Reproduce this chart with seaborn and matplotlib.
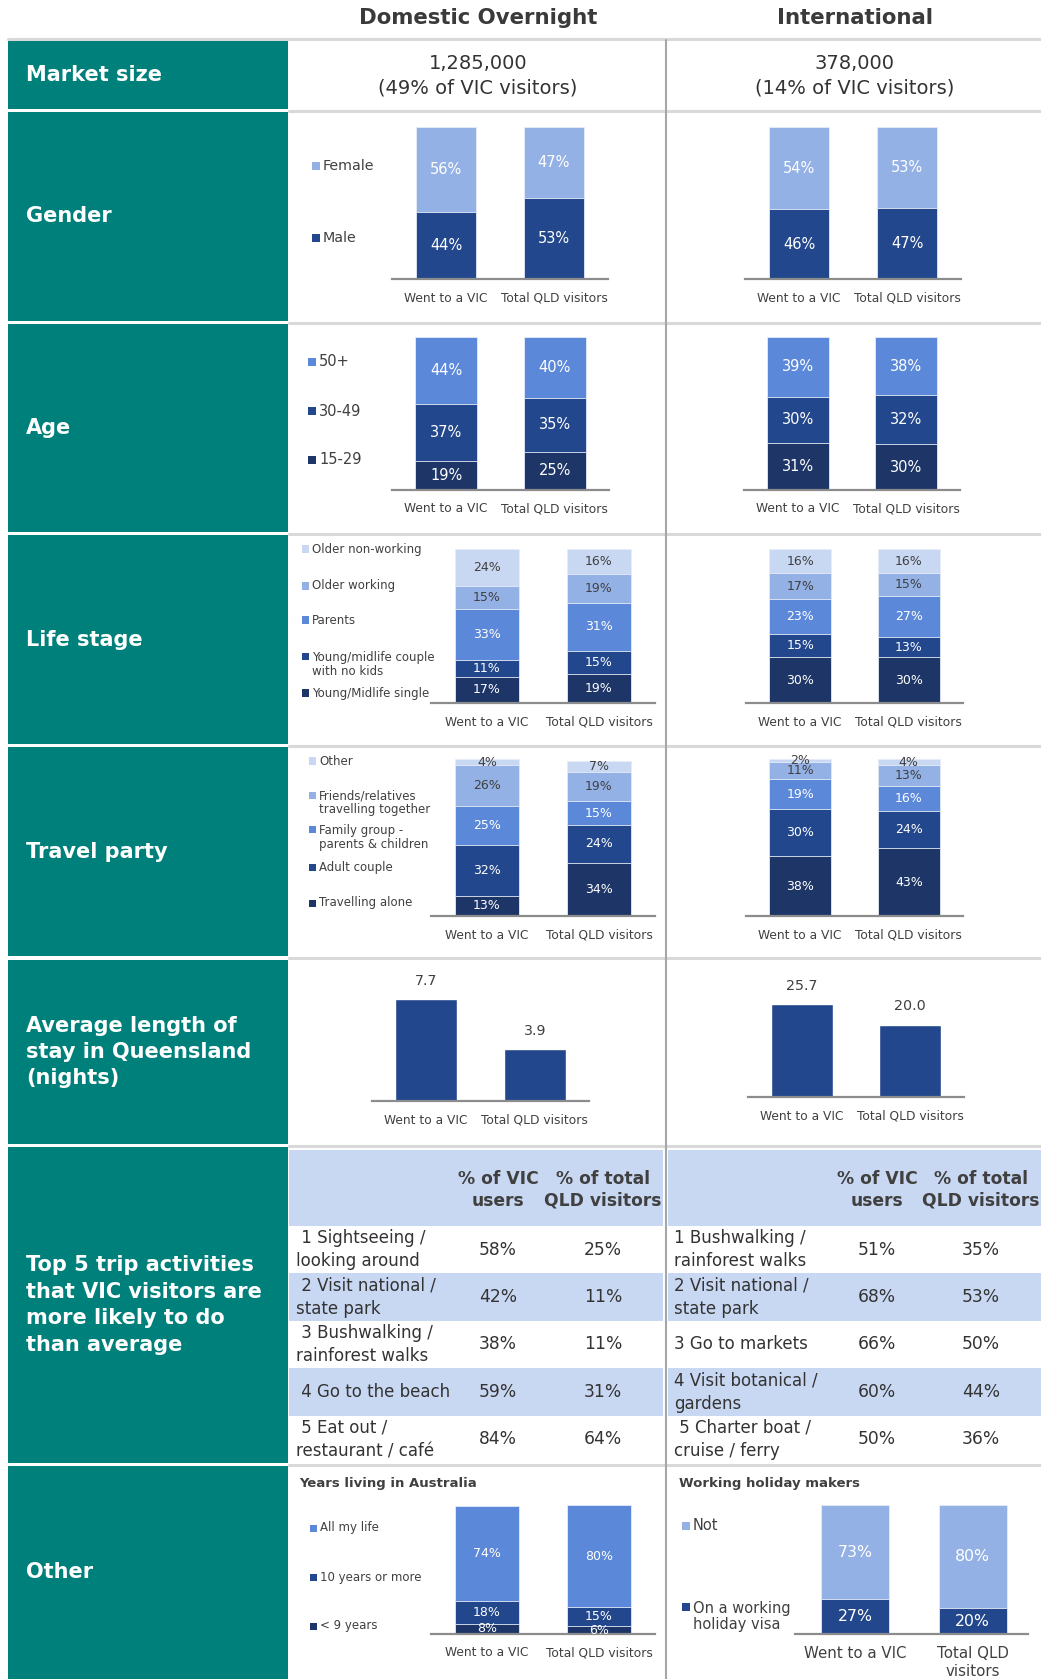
import numpy as np
import pandas as pd
import matplotlib
matplotlib.use("Agg")
import matplotlib.pyplot as plt
from matplotlib.patches import Rectangle
from matplotlib.lines import Line2D
import seaborn as sns

# ── Data ─────────────────────────────────────
cats = ["Went to a VIC", "Total QLD visitors"]

market_dom = 1285000
market_dom_share = 49
market_int = 378000
market_int_share = 14

# segments listed bottom -> top, each [VIC, QLD]
gender_labels = ["Male", "Female"]
gender_dom = [[44, 53], [56, 47]]
gender_int = [[46, 47], [54, 53]]

age_labels = ["15-29", "30-49", "50+"]
age_dom = [[19, 25], [37, 35], [44, 40]]
age_int = [[31, 30], [30, 32], [39, 38]]

life_labels = ["Young/Midlife single", "Young/midlife couple\nwith no kids",
               "Parents", "Older working", "Older non-working"]
life_dom = [[17, 19], [11, 15], [33, 31], [15, 19], [24, 16]]
life_int = [[30, 30], [15, 13], [23, 27], [17, 15], [16, 16]]

party_labels = ["Travelling alone", "Adult couple", "Family group -\nparents & children",
                "Friends/relatives\ntravelling together", "Other"]
party_dom = [[13, 34], [32, 24], [25, 15], [26, 19], [4, 7]]
party_int = [[38, 43], [30, 24], [19, 16], [11, 13], [2, 4]]

stay_dom = [7.7, 3.9]
stay_int = [25.7, 20.0]

act_dom = [" 1 Sightseeing /\nlooking around", " 2 Visit national /\nstate park",
           " 3 Bushwalking /\nrainforest walks", " 4 Go to the beach",
           " 5 Eat out /\nrestaurant / café"]
act_dom_vic = [58, 42, 38, 59, 84]
act_dom_qld = [25, 11, 11, 31, 64]
act_int = ["1 Bushwalking /\nrainforest walks", "2 Visit national /\nstate park",
           "3 Go to markets", "4 Visit botanical /\ngardens", " 5 Charter boat /\ncruise / ferry"]
act_int_vic = [51, 68, 66, 60, 50]
act_int_qld = [35, 53, 50, 44, 36]

years_labels = ["< 9 years", "10 years or more", "All my life"]
years_dom = [[8, 6], [18, 15], [74, 80]]

whm_cats = ["Went to a VIC", "Total QLD\nvisitors"]
whm_labels = ["On a working\nholiday visa", "Not"]
whm_int = [[27, 20], [73, 80]]

row_titles = ["Market size", "Gender", "Age", "Life stage", "Travel party",
              "Average length of\nstay in Queensland\n(nights)",
              "Top 5 trip activities\nthat VIC visitors are\nmore likely to do\nthan average",
              "Other"]

# ── Style ─────────────────────────────────────
TEAL = "#00807a"
NAVY_D = "#1d3567"
NAVY = "#22478c"
MID = "#5b88d9"
LIGHT = "#93b1e5"
PALE = "#c9d8f2"
DARK = "#404040"
GRID = "#d9d9d9"

sns.set_theme(style="white")
plt.rcParams["font.family"] = ["DejaVu Sans"]

W, H = 1041, 1679
fig = plt.figure(figsize=(W / 100, H / 100), dpi=100)
fig.patch.set_facecolor("white")


def fy(y):
    return 1 - y / H


def panel(x0, x1, ytop, ybot):
    return fig.add_axes([x0 / W, fy(ybot), (x1 - x0) / W, (ybot - ytop) / H])


def finish(ax, ymax, tick_fs=8.8, pad=9, xlim=(-0.5, 1.5)):
    ax.set_ylim(0, ymax)
    ax.set_xlim(*xlim)
    for s in ["top", "right", "left"]:
        ax.spines[s].set_visible(False)
    ax.spines["bottom"].set_color("#8c8c8c")
    ax.spines["bottom"].set_linewidth(1.6)
    ax.set_yticks([])
    ax.set_xlabel("")
    ax.set_ylabel("")
    ax.tick_params(axis="x", length=0, pad=pad, labelsize=tick_fs, labelcolor=DARK)
    ax.patch.set_alpha(0)


def stacked(x0, x1, ytop, ybot, segs, colors, tcolors, fs, names=cats,
            width=0.57, tick_fs=8.8, pad=9, xlim=(-0.5, 1.5)):
    ax = panel(x0, x1, ytop, ybot)
    df = pd.DataFrame(segs, columns=names)
    cum = df.cumsum()
    for i in reversed(range(len(df))):
        sns.barplot(x=names, y=cum.iloc[i].to_numpy(), color=colors[i], width=width,
                    saturation=1, edgecolor="#e6ecf7", linewidth=0.6, ax=ax)
    for i in range(len(df)):
        for j in range(len(names)):
            v = df.iloc[i, j]
            ax.text(j, cum.iloc[i, j] - v / 2, f"{v}%", ha="center", va="center",
                    color=tcolors[i], fontsize=fs)
    finish(ax, cum.iloc[-1].max(), tick_fs, pad, xlim)
    return ax


def legend(labels, colors, ys, xm, fs, size=7, gap=3):
    lh = fs * 100 / 72 * 1.17 * 1.1
    for lab, c, y in zip(labels, colors, ys):
        fig.add_artist(Rectangle((xm / W, fy(y + size / 2)), size / W, size / H,
                                 transform=fig.transFigure, facecolor=c, edgecolor="none"))
        n = lab.count("\n")
        fig.text((xm + size + gap) / W, fy(y + n * lh / 2), lab, ha="left", va="center",
                 fontsize=fs, color=DARK, linespacing=1.1)


def table(x0, x1, acts, vic, qld, tx, cv, cq):
    ax = panel(x0, x1, 1150, 1463)
    ax.set_xlim(x0, x1)
    ax.set_ylim(1463, 1150)
    ax.axis("off")
    ax.axhspan(1150, 1226, color=PALE, lw=0)
    ax.text(cv, 1190, "% of VIC\nusers", ha="center", va="center", fontsize=12.3,
            fontweight="bold", color=DARK, linespacing=1.25)
    ax.text(cq, 1190, "% of total\nQLD visitors", ha="center", va="center", fontsize=12.3,
            fontweight="bold", color=DARK, linespacing=1.25)
    rh = (1463 - 1226) / len(acts)
    for i, (a, v, q) in enumerate(zip(acts, vic, qld)):
        y0 = 1226 + i * rh
        if i % 2:
            ax.axhspan(y0, y0 + rh, color=PALE, lw=0)
        yc = y0 + rh / 2
        ax.text(tx, yc, a, ha="left", va="center", fontsize=12, color="#333333",
                linespacing=1.4)
        ax.text(cv, yc, f"{v}%", ha="center", va="center", fontsize=12.3, color="#333333")
        ax.text(cq, yc, f"{q}%", ha="center", va="center", fontsize=12.3, color="#333333")


# ── Frame: teal row headers and grid lines ────
cells = [(41, 109), (112, 321), (324, 532), (535, 744), (747, 956),
         (960, 1144), (1147, 1463), (1466, 1679)]
for (t, b), title in zip(cells, row_titles):
    fig.add_artist(Rectangle((8 / W, fy(b)), 280 / W, (b - t) / H,
                             transform=fig.transFigure, facecolor=TEAL, edgecolor="none"))
    fig.text(26 / W, fy((t + b) / 2), title, ha="left", va="center", color="white",
             fontsize=15, fontweight="bold", linespacing=1.4)

fig.add_artist(Line2D([8 / W, 1], [fy(39), fy(39)], transform=fig.transFigure,
                      color=GRID, lw=2.2))
for y in [110.5, 322.5, 533.5, 745.5, 958, 1145.5, 1464.5]:
    fig.add_artist(Line2D([289 / W, 1], [fy(y), fy(y)], transform=fig.transFigure,
                          color=GRID, lw=2.2))
fig.add_artist(Line2D([666 / W, 666 / W], [fy(40), 0], transform=fig.transFigure,
                      color="#a6a6a6", lw=1.5))

fig.text(478 / W, fy(18), "Domestic Overnight", ha="center", va="center",
         fontsize=15.3, fontweight="bold", color="#3a3a3a")
fig.text(855 / W, fy(18), "International", ha="center", va="center",
         fontsize=15.3, fontweight="bold", color="#3a3a3a")

fig.text(478 / W, fy(76), f"{market_dom:,}\n({market_dom_share}% of VIC visitors)",
         ha="center", va="center", fontsize=14, color="#333333", linespacing=1.4)
fig.text(855 / W, fy(76), f"{market_int:,}\n({market_int_share}% of VIC visitors)",
         ha="center", va="center", fontsize=14, color="#333333", linespacing=1.4)

# ── Gender ───────────────────────────────────
g_cols = [NAVY, LIGHT]
g_txt = ["white", "white"]
stacked(392, 608, 127, 279, gender_dom, g_cols, g_txt, 10.5, width=0.56)
stacked(745, 961, 127, 279, gender_int, g_cols, g_txt, 10.5, width=0.56)
legend(gender_labels, g_cols, [238, 166], 312, 10.3, size=8)

# ── Age ──────────────────────────────────────
a_cols = [NAVY_D, NAVY, MID]
a_txt = ["white", "white", "white"]
stacked(392, 609, 337, 490, age_dom, a_cols, a_txt, 10.5)
stacked(744, 960, 337, 490, age_int, a_cols, a_txt, 10.5)
legend(age_labels, a_cols, [460, 411, 362], 308, 10.5, size=8)

# ── Life stage ───────────────────────────────
l_cols = [NAVY_D, NAVY, MID, LIGHT, PALE]
l_txt = ["white", "white", "white", DARK, DARK]
stacked(431, 655, 549, 703, life_dom, l_cols, l_txt, 9)
stacked(746, 963, 549, 703, life_int, l_cols, l_txt, 9)
legend(life_labels, l_cols, [693, 657, 620, 586, 549], 302, 8.5, size=7)

# ── Travel party ─────────────────────────────
stacked(431, 655, 759, 916, party_dom, l_cols, l_txt, 9)
stacked(746, 963, 759, 916, party_int, l_cols, l_txt, 9)
legend(party_labels, l_cols, [903, 867, 830, 795, 761], 309, 8.5, size=7)

# ── Average length of stay ───────────────────
for x0, x1, base, vals, ymax, scale in [(372, 589, 1101, stay_dom, 8.5, 13.25),
                                         (748, 964, 1097, stay_int, 28, 3.62)]:
    ax = panel(x0, x1, base - ymax * scale, base)
    sns.barplot(x=cats, y=vals, color=NAVY, width=0.57, saturation=1, ax=ax)
    ax.bar_label(ax.containers[0], fmt="%.1f", padding=8, fontsize=10.3, color=DARK)
    finish(ax, ymax)

# ── Top 5 activities ─────────────────────────
table(289, 663, act_dom, act_dom_vic, act_dom_qld, 296, 498, 603)
table(668, 1041, act_int, act_int_vic, act_int_qld, 674, 877, 981)

# ── Other ────────────────────────────────────
fig.text(299 / W, fy(1484), "Years living in Australia", ha="left", va="center",
         fontsize=9.5, fontweight="bold", color=DARK)
fig.text(679 / W, fy(1484), "Working holiday makers", ha="left", va="center",
         fontsize=9.5, fontweight="bold", color=DARK)

y_cols = [NAVY_D, NAVY, MID]
stacked(431, 655, 1505, 1634, years_dom, y_cols, ["white"] * 3, 9)
legend(years_labels, y_cols, [1626, 1577, 1528], 310, 8.5, size=7)

w_cols = [NAVY, LIGHT]
stacked(795, 1028, 1505, 1634, whm_int, w_cols, ["white", "white"], 11.3, names=whm_cats,
        width=0.58, tick_fs=10.8, pad=9, xlim=(-0.51, 1.47))
legend(whm_labels, w_cols, [1607, 1526], 682, 10.5, size=8)

plt.savefig("out.png", dpi=100, facecolor="white")
